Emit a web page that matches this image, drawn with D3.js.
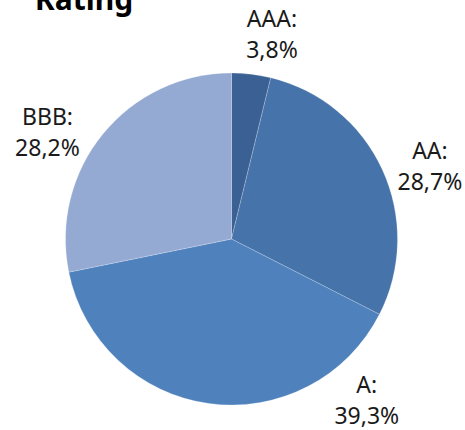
<!DOCTYPE html>
<html><head><meta charset="utf-8">
<script src="https://cdn.jsdelivr.net/npm/d3@7"></script>
<style>html,body{margin:0;padding:0;background:#fff;overflow:hidden}</style>
</head><body>
<script>
const categories = ["AAA", "AA", "A", "BBB"];
const values = [3.8, 28.7, 39.3, 28.2];
const colors = ["#3b6194", "#4673aa", "#4f81bd", "#95aad3"];
const title = "Rating";

const W = 465, H = 430;
const cx = 231.5, cy = 239, R = 166;
// label placement (angle in degrees clockwise from top, radius) – Excel "best fit"
const labelLayout = [[10.8, 216], [68.0, 214], [138.7, 205], [301.8, 216.5]];

const svg = d3.select("body").append("svg").attr("width", W).attr("height", H);

svg.append("text").attr("x", 35).attr("y", 10)
  .attr("font-family", "'Noto Sans', 'Open Sans', sans-serif")
  .attr("font-weight", "bold").attr("font-size", 30).attr("fill", "#000")
  .text(title);

const data = categories.map((c, i) => ({ cat: c, v: values[i], color: colors[i] }));
const pie = d3.pie().value(d => d.v).sort(null);
const arc = d3.arc().innerRadius(0).outerRadius(R);
const g = svg.append("g").attr("transform", `translate(${cx},${cy})`);
const arcs = pie(data);
g.selectAll("path").data(arcs).join("path")
  .attr("d", arc).attr("fill", d => d.data.color)
  .attr("stroke", "rgba(255,255,255,0.35)").attr("stroke-width", 0.6);

const fmt = v => d3.format(".1f")(v).replace(".", ",") + "%";
const lg = g.selectAll("text.lbl").data(arcs).join("text").attr("class", "lbl")
  .attr("font-family", "'Noto Sans', 'Open Sans', sans-serif")
  .attr("font-size", 23).attr("fill", "#1a1a1a").attr("text-anchor", "middle")
  .attr("transform", (d, i) => {
    const a = labelLayout[i][0] * Math.PI / 180, r = labelLayout[i][1];
    return `translate(${r * Math.sin(a)},${-r * Math.cos(a)})`;
  });
lg.append("tspan").attr("x", 0).attr("y", 0).text(d => d.data.cat + ":");
lg.append("tspan").attr("x", 0).attr("y", 31).text(d => fmt(d.data.v));
</script>
</body></html>
